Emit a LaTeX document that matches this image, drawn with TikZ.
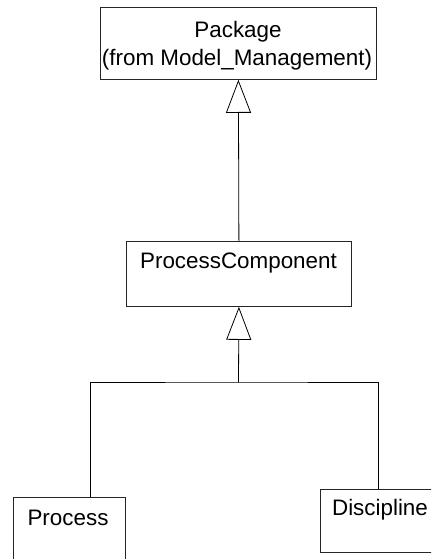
\documentclass[tikz,border=0pt]{standalone}
\usepackage{fontspec}
\setmainfont{Liberation Sans}
\usetikzlibrary{arrows.meta}
\tikzset{
  x=1pt, y=1pt,
  box/.style={draw=black!85, line width=0.8pt, rectangle, inner sep=0pt, anchor=north west},
  txt/.style={font=\fontsize{22.4}{27}\selectfont, inner sep=0pt, anchor=base, align=center},
  conn/.style={draw=black, line width=0.8pt},
  gen/.style={conn, -{Triangle[open, length=33pt, width=25pt]}}
}
\begin{document}
\begin{tikzpicture}
\useasboundingbox (0,0) rectangle (431,-559);
\clip (0,0) rectangle (431,-559);
\fill[white] (0,0) rectangle (431,-559);
% boxes
\node[box, minimum width=276pt, minimum height=72pt] (pkg) at (100,-7) {};
\node[box, minimum width=225pt, minimum height=65pt] (pc) at (126,-241) {};
\node[box, minimum width=112pt, minimum height=90pt] (proc) at (13,-497) {};
\node[box, minimum width=130pt, minimum height=63pt] (disc) at (320,-489) {};
% texts
\node[txt] (pkgt1) at (238,-38) {Package};
\node[txt] (pkgt2) at (237,-65.5) {(from Model\_Management)};
\node[txt] (pct) at (238.5,-268) {ProcessComponent};
\node[txt] (proct) at (68,-525) {Process};
\node[txt] (disct) at (380,-515) {Discipline};
% connectors
\draw[gen] (pc.north) -- (pkg.south);
\coordinate (j) at (238.5,-382);
\draw[gen] (j) -- (pc.south);
\draw[conn] ([xshift=77pt]proc.north west) |- (j) -| ([xshift=58pt]disc.north west);
\end{tikzpicture}
\end{document}
